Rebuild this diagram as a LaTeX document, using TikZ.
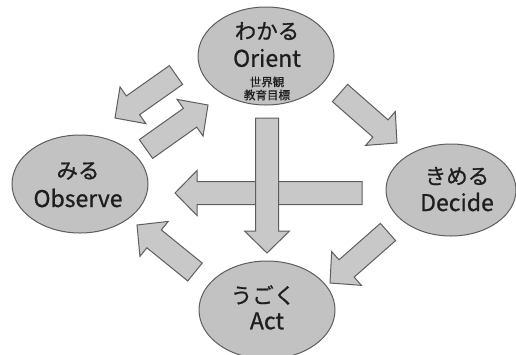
\documentclass[tikz,border=0pt]{standalone}
\usepackage{fontspec}
\setmainfont{Noto Sans CJK JP}[RawFeature={embolden=0.8}]
\usetikzlibrary{calc,shapes.geometric}
\definecolor{ellfill}{HTML}{C2C2C2}
\definecolor{arrfill}{HTML}{C8C8C8}
\definecolor{edge}{HTML}{5E5E5E}
\definecolor{txt}{HTML}{1E1E1E}
\tikzset{
  ell/.style={ellipse, draw=edge, fill=ellfill, line width=1pt, minimum width=136pt, minimum height=98pt, inner sep=0pt},
  big/.style={text=txt, font=\fontsize{23}{23}\selectfont, inner sep=0pt},
  kana/.style={text=txt, font=\fontsize{21.5}{21.5}\selectfont, inner sep=0pt},
  small/.style={text=txt, font=\fontsize{11.5}{11.5}\selectfont, inner sep=0pt},
  barrow/.style={draw=edge, fill=arrfill, line width=1pt, line join=miter}
}
\newcommand{\blockarr}[2]{%
  \draw[barrow] let \p1=(#1), \p2=(#2),
    \n1={atan2(\y2-\y1,\x2-\x1)}, \n2={veclen(\x2-\x1,\y2-\y1)} in
    ($(\p1)+(\n1+90:11.5pt)$)
    -- ($(\p1)+(\n1:{\n2-22pt})+(\n1+90:11.5pt)$)
    -- ($(\p1)+(\n1:{\n2-22pt})+(\n1+90:22.5pt)$)
    -- (\p2)
    -- ($(\p1)+(\n1:{\n2-22pt})+(\n1-90:22.5pt)$)
    -- ($(\p1)+(\n1:{\n2-22pt})+(\n1-90:11.5pt)$)
    -- ($(\p1)+(\n1-90:11.5pt)$) -- cycle;%
}
\begin{document}
\begin{tikzpicture}[x=1pt,y=-1pt]
\path[use as bounding box] (0,0) rectangle (516,354);
\clip (0,0) rectangle (516,354);
\fill[white] (0,0) rectangle (516,354);
% ellipses
\node[ell] (orient) at (266,56) {};
\node[ell] (observe) at (80,184) {};
\node[ell, minimum width=130pt, minimum height=92pt] (decide) at (451,190) {};
\node[ell] (act) at (267,310) {};
% texts
\node[kana] (t1) at (267,31) {わかる};
\node[big] (t2) at (267,58) {Orient};
\node[small] (t3) at (267,82) {世界観};
\node[small] (t4) at (267,95) {教育目標};
\node[kana] (t5) at (78,171) {みる};
\node[big] (t6) at (78,198) {Observe};
\node[kana] (t7) at (457,176) {きめる};
\node[big] (t8) at (457,202) {Decide};
\node[kana] (t9) at (263,295) {うごく};
\node[big] (t10) at (267,321) {Act};
% arrow end points
\coordinate (a1s) at (176,75);  \coordinate (a1e) at (115,118);
\coordinate (a2s) at (146,149); \coordinate (a2e) at (208,105);
\coordinate (a3s) at (340,93);  \coordinate (a3e) at (397,143);
\coordinate (a4s) at (388,232); \coordinate (a4e) at (330,283);
\coordinate (a5s) at (195,272); \coordinate (a5e) at (137,225);
\coordinate (a6s) at (362,193); \coordinate (a6e) at (175,193);
\coordinate (a7s) at (267,118); \coordinate (a7e) at (267,253);
\blockarr{a1s}{a1e}
\blockarr{a2s}{a2e}
\blockarr{a3s}{a3e}
\blockarr{a4s}{a4e}
\blockarr{a5s}{a5e}
\blockarr{a6s}{a6e}
\blockarr{a7s}{a7e}
\end{tikzpicture}
\end{document}
